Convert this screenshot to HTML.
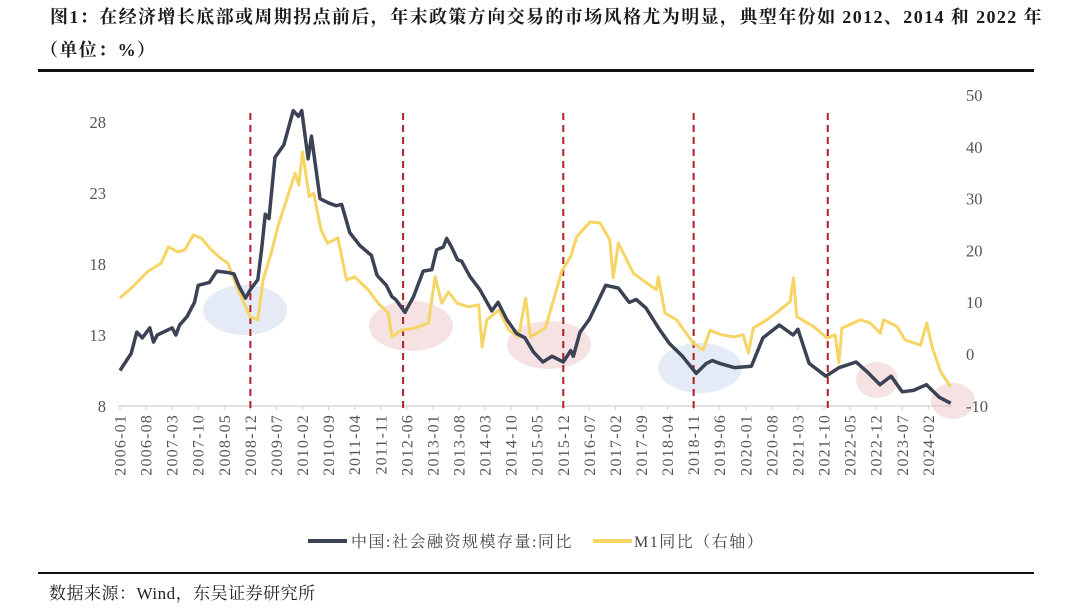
<!DOCTYPE html>
<html><head><meta charset="utf-8">
<style>
body{margin:0;background:#fff;}
#wrap{position:relative;width:1080px;height:614px;overflow:hidden;font-family:"Liberation Serif","Noto Serif CJK SC",serif;}
.title{position:absolute;left:50px;font-weight:bold;font-size:18px;color:#1a1a1a;letter-spacing:1.4px;white-space:nowrap;}
</style></head>
<body>
<div id="wrap">
<div class="title" style="top:3px">图1：在经济增长底部或周期拐点前后，年末政策方向交易的市场风格尤为明显，典型年份如 2012、2014 和 2022 年</div>
<div class="title" style="top:36px;left:40px">（单位：%）</div>
<div style="position:absolute;left:38px;top:69px;width:996px;height:3px;background:#111"></div>
<svg id="chart" width="1080" height="614" style="position:absolute;left:0;top:0"></svg>
<div style="position:absolute;left:38px;top:572px;width:996px;height:2px;background:#111"></div>
<div style="position:absolute;left:49px;top:579px;font-size:17px;color:#222;letter-spacing:0.5px">数据来源：Wind，东吴证券研究所</div>
</div>
<script>
const tickLabels=[];
const leftTicks=[8,13,18,23,28];
const rightTicks=[-10,0,10,20,30,40,50];
const eventMonths=[35,76,119,154,190];
const tsfMonths=[0,3,4.5,6,8,9,10,14,15,16,18,20,21,24,26,29,30.6,32,33.7,35,37,38,39,40,41.6,44,46.5,47.9,48.8,50.5,51.4,53.7,56,58,59.5,61.7,64.4,67.5,69,71.5,73,74,76.5,78.8,81.4,83.7,85,86.8,87.7,89,90.6,91.7,94,96.6,99.8,101.5,103.8,106.5,108.7,111,113.5,116,119,121,121.7,123.5,126,130.4,133.8,136.7,138.6,141.2,144.8,147.5,151,154.7,157.4,159,161,165,169.5,172.6,177,180.7,182,185,189.5,193,197.6,201,204,207,210,213,216.5,220,223];
const tsfValues=[10.5,11.7,13.2,12.8,13.5,12.5,13,13.5,13,13.7,14.3,15.3,16.5,16.7,17.5,17.4,17.3,16.4,15.6,16.2,16.9,19,21.5,21.2,25.5,26.4,28.8,28.4,28.8,25.4,27,22.6,22.3,22.1,22.2,20.2,19.3,18.6,17.2,16.5,15.7,15.5,14.6,15.7,17.5,17.6,19,19.2,19.8,19.2,18.3,18.2,17.1,16.2,14.7,15.3,14.1,13.1,12.8,11.8,11.1,11.5,11.1,11.9,11.5,13.2,14.1,16.5,16.3,15.3,15.5,14.9,13.4,12.4,11.5,10.3,11.0,11.2,11.0,10.7,10.8,12.8,13.7,13.0,13.4,11.0,10.1,10.7,11.1,10.3,9.5,10.1,9.0,9.1,9.5,8.6,8.2];
const m1Months=[0,3,7.4,11,13,15.5,17.4,19.7,21.8,24.5,27,29,31.7,34.9,37,38.4,40.6,42.5,45,47,48,49,50.8,52,54,55.7,58.5,60.8,63,66.6,69.3,72,73,75.6,79.2,82.8,84.6,86.4,88.2,90.5,93.6,96.3,97.2,98.5,101.7,104.4,107,108.9,110.2,114.2,118.7,121,122.6,126.2,128.9,131.5,132.4,133.8,137.8,141.4,144,144.5,146.3,149.4,152,153.9,156.6,158.4,161.5,164.7,167.3,168.7,170,173.6,177.2,179.9,180.8,181.7,186.2,189.8,192,193,193.8,197,198.8,201.4,204.1,205,208.6,210.8,214.9,216.6,218,220.3,223];
const m1Values=[10.8,12.7,15.9,17.5,20.7,19.7,20.1,23,22.4,20.1,18.5,17.5,12.4,7.2,6.6,14.3,19.5,24.9,30.4,34.9,32.6,39,30.4,31,23.9,21.4,22.4,14.3,14.9,12.4,9.8,7.9,3.3,4.6,5,6,14.9,9.8,12,9.8,9.1,9.5,1.4,6.6,8.5,4.6,3.3,10.8,3.3,5,16.2,18.8,22.6,25.5,25.3,22,14.7,21.4,15.6,13.7,12.4,14.9,7.9,6.6,4,2.1,0.8,4.6,3.7,3.3,3.7,0.2,5,6.6,8.5,10.1,14.7,7.2,5.3,3.1,3.7,-1.7,5,6,6.6,6,4,6.6,5.3,2.7,1.7,6,1.4,-3.4,-6.3];
for(let m=0;m<=217;m+=7){const y=2006+Math.floor(m/12),mo=m%12+1;tickLabels.push(y+'-'+(mo<10?'0':'')+mo);}

const NS='http://www.w3.org/2000/svg';
const svg=document.getElementById('chart');
const X0=120,PXM=3.725;
const xs=m=>X0+m*PXM;
const yL=v=>406-(v-8)*14.2;
const yR=v=>354-v*5.18;
function mk(t,a){const e=document.createElementNS(NS,t);for(const k in a)e.setAttribute(k,a[k]);svg.appendChild(e);return e;}

const ells=[[245,310,42,25,'#dfe8f4'],[411,326,42,25,'#f4dcde'],[549,345,42,24,'#f4dcde'],[700,368,42,25,'#dfe8f4'],[877,380,21,18,'#f4dcde'],[953,401,22,18,'#f4dcde']];
ells.forEach(e=>{const el=mk('ellipse',{cx:e[0],cy:e[1],rx:e[2],ry:e[3],fill:e[4],opacity:0.85});

});

const ax=mk('line',{x1:118,y1:406,x2:952,y2:406,stroke:'#cfcfcf','stroke-width':1.2});


tickLabels.forEach((t,i)=>{const x=xs(i*7);
 const tk=mk('line',{x1:x,y1:406,x2:x,y2:410,stroke:'#cfcfcf'});
 
 
 const tx=mk('text',{x:0,y:0,transform:`translate(${x+5.5},414) rotate(-90)`,'text-anchor':'end','font-size':16,'letter-spacing':1.2,fill:'#555','font-family':'Liberation Serif, serif'});
 tx.textContent=t;
 
 });
leftTicks.forEach(v=>{const tx=mk('text',{x:106,y:yL(v)+6,'text-anchor':'end','font-size':16.5,fill:'#555','font-family':'Liberation Serif, serif'});
 tx.textContent=v;
 
 });
rightTicks.forEach(v=>{const tx=mk('text',{x:966,y:yR(v)+6,'text-anchor':'start','font-size':16.5,fill:'#555','font-family':'Liberation Serif, serif'});
 tx.textContent=v;
 
 });

eventMonths.forEach(m=>{const l=mk('line',{x1:xs(m),y1:113,x2:xs(m),y2:408,stroke:'#b01e23','stroke-width':2,'stroke-dasharray':'7,5'});
 
 });

const pM=m1Months.map((m,i)=>xs(m)+','+yR(m1Values[i])).join(' ');
const lm=mk('polyline',{points:pM,fill:'none',stroke:'#f6d565','stroke-width':3,'stroke-linejoin':'round'});


const pT=tsfMonths.map((m,i)=>xs(m)+','+yL(tsfValues[i])).join(' ');
const lt=mk('polyline',{points:pT,fill:'none',stroke:'#3a4254','stroke-width':3.5,'stroke-linejoin':'round'});



const l1=mk('line',{x1:308,y1:541,x2:347,y2:541,stroke:'#3a4254','stroke-width':4});


const t1=mk('text',{x:351,y:547,'font-size':16,'letter-spacing':1.5,fill:'#444','font-family':'Liberation Serif, Noto Serif CJK SC, serif'});
t1.textContent='中国:社会融资规模存量:同比';


const l2=mk('line',{x1:593,y1:541,x2:632,y2:541,stroke:'#f6d565','stroke-width':4});


const t2=mk('text',{x:634,y:547,'font-size':16,'letter-spacing':1.5,fill:'#444','font-family':'Liberation Serif, Noto Serif CJK SC, serif'});
t2.textContent='M1同比（右轴）';


</script>
</body></html>
